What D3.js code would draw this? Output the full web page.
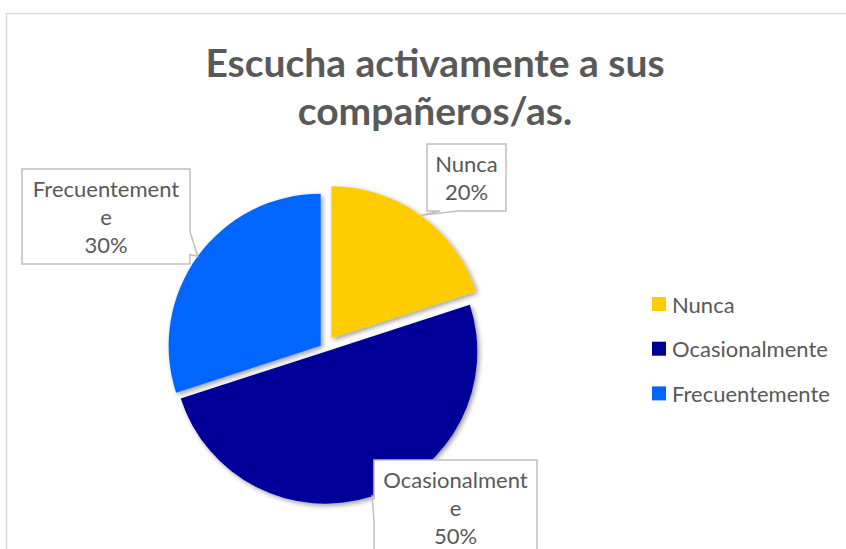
<!DOCTYPE html>
<html>
<head>
<meta charset="utf-8">
<script src="https://cdnjs.cloudflare.com/ajax/libs/d3/7.8.5/d3.min.js"></script>
<style>
  body { margin: 0; background: #fff; }
  svg { display: block; font-family: Lato, "Open Sans", sans-serif; }
</style>
</head>
<body>
<div id="chart"></div>
<script>

// data
var titleLines = ["Escucha activamente a sus", "compañeros/as."];
var categories = ["Nunca", "Ocasionalmente", "Frecuentemente"];
var values = [20, 50, 30];
var colours = ["#FFCC00", "#000099", "#0066FF"];

var width = 846;
var height = 549;

// pie placement and how far each slice is pulled out
var cx = 324.2, cy = 348.3, radius = 152;
var explode = { "Nunca": 12.3, "Ocasionalmente": 3.5, "Frecuentemente": 4.4 };

// callout boxes (Excel data labels)
var boxes = {
    "Nunca":          { x: 427, y: 144, w: 79,  wrap: 70 },
    "Ocasionalmente": { x: 374, y: 460, w: 163, wrap: 148 },
    "Frecuentemente": { x: 22,  y: 169, w: 168, wrap: 156 }
};
var lineH = 28;
var fontSize = 22;

var textColour = "#595959";
var pformat = d3.format(".0%");

var svg = d3.select("#chart")
    .append("svg")
    .attr("width", width)
    .attr("height", height);

var defs = svg.append("defs");
var shadow = defs.append("filter")
    .attr("id", "shadow")
    .attr("x", "-20%").attr("y", "-20%")
    .attr("width", "140%").attr("height", "140%");
shadow.append("feDropShadow")
    .attr("dx", 2).attr("dy", 2)
    .attr("stdDeviation", 2.5)
    .attr("flood-color", "#000")
    .attr("flood-opacity", 0.4);

// chart area frame, runs off the right and bottom like the screenshot
svg.append("rect")
    .attr("x", 6.5).attr("y", 13.5)
    .attr("width", 900).attr("height", 600)
    .attr("fill", "#fff")
    .attr("stroke", "#d9d9d9")
    .attr("stroke-width", 1.5);

// title
svg.append("text")
    .attr("x", 435)
    .attr("y", 77)
    .attr("text-anchor", "middle")
    .attr("fill", textColour)
    .style("font-size", "39px")
    .style("font-weight", "bold")
    .selectAll("tspan")
    .data(titleLines)
    .enter()
    .append("tspan")
    .attr("x", 435)
    .attr("dy", function(d, i) { return i ? 48 : 0; })
    .text(function(d) { return d; });

var pieData = categories.map(function(c, i) {
    return { key: c, value: values[i], colour: colours[i] };
});
var total = d3.sum(values);

var pie = d3.pie()
    .sort(null)
    .value(function(d) { return d.value; });

var arc = d3.arc()
    .innerRadius(0)
    .outerRadius(radius);

function midAngle(d) {
    return d.startAngle + (d.endAngle - d.startAngle) / 2;
}

// where a slice's vertex ends up after exploding
function offset(d) {
    var a = midAngle(d), e = explode[d.data.key];
    return [cx + e * Math.sin(a), cy - e * Math.cos(a)];
}

var arcs = pie(pieData);

svg.append("g")
    .attr("class", "slices")
    .selectAll("path")
    .data(arcs)
    .enter()
    .append("path")
    .attr("transform", function(d) { return "translate(" + offset(d) + ")"; })
    .attr("d", arc)
    .attr("fill", function(d) { return d.data.colour; })
    .attr("filter", "url(#shadow)");

// breaks a word by characters when it is wider than the box, like Excel does
var measure = svg.append("text").style("font-size", fontSize + "px").attr("visibility", "hidden");
function charWrap(str, maxW) {
    var lines = [], cur = "";
    for (var i = 0; i < str.length; i++) {
        var t = cur + str[i];
        measure.text(t);
        if (cur && measure.node().getComputedTextLength() > maxW) {
            lines.push(cur);
            cur = str[i];
        } else {
            cur = t;
        }
    }
    if (cur) lines.push(cur);
    return lines;
}

function calloutPath(b, tip) {
    var r = b.x + b.w, btm = b.y + b.h, p = d3.path();
    p.moveTo(b.x, b.y);
    p.lineTo(r, b.y);
    if (tip[0] > r) {
        var y0 = Math.max(b.y + 6, Math.min(tip[1] - 25, btm - 30));
        p.lineTo(r, y0); p.lineTo(tip[0], tip[1]); p.lineTo(r, y0 + 23);
    }
    p.lineTo(r, btm);
    if (tip[1] > btm && tip[0] <= r && tip[0] >= b.x - 40) {
        var x0 = Math.max(b.x + 13, Math.min(tip[0], r - 31));
        p.lineTo(x0 + 18, btm); p.lineTo(tip[0], tip[1]); p.lineTo(x0, btm);
    }
    p.lineTo(b.x, btm);
    if (tip[0] < b.x && tip[1] < btm) {
        var y1 = Math.max(b.y + 6, Math.min(tip[1] + 2, btm - 30));
        p.lineTo(b.x, y1 + 23); p.lineTo(tip[0], tip[1]); p.lineTo(b.x, y1);
    }
    p.closePath();
    return p.toString();
}

var labels = svg.append("g").attr("class", "labels")
    .selectAll("g")
    .data(arcs)
    .enter()
    .append("g");

labels.each(function(d) {
    var g = d3.select(this);
    var b = Object.assign({}, boxes[d.data.key]);
    var lines = charWrap(d.data.key, b.wrap);
    lines.push(pformat(d.data.value / total));
    b.h = lines.length * lineH + 11;

    var o = offset(d), a = midAngle(d);
    var tip = [o[0] + radius * Math.sin(a), o[1] - radius * Math.cos(a)];

    g.append("path")
        .attr("d", calloutPath(b, tip))
        .attr("fill", "#fff")
        .attr("stroke", "#bfbfbf")
        .attr("stroke-width", 1.5);

    g.append("text")
        .attr("text-anchor", "middle")
        .attr("fill", textColour)
        .style("font-size", fontSize + "px")
        .selectAll("tspan")
        .data(lines)
        .enter()
        .append("tspan")
        .attr("x", b.x + b.w / 2)
        .attr("y", function(l, i) { return b.y + 28 + i * lineH; })
        .text(function(l) { return l; });
});
measure.remove();

// legend
var legend = svg.append("g")
    .attr("class", "legend")
    .attr("transform", "translate(652,297)")
    .selectAll("g")
    .data(pieData)
    .enter()
    .append("g")
    .attr("transform", function(d, i) { return "translate(0," + i * 44.7 + ")"; });

legend.append("rect")
    .attr("width", 14)
    .attr("height", 14)
    .attr("fill", function(d) { return d.colour; });

legend.append("text")
    .attr("x", 20)
    .attr("y", 15.5)
    .attr("fill", textColour)
    .style("font-size", fontSize + "px")
    .text(function(d) { return d.key; });

</script>
</body>
</html>
